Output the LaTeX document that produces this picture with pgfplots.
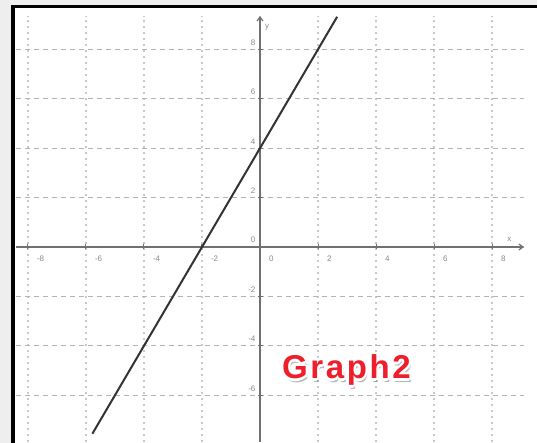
\documentclass[border=0pt]{standalone}
\usepackage{fontspec}
\setmainfont{Liberation Sans}
\newfontfamily\gfont[LetterSpace=8]{Liberation Sans}
\usepackage{pgfplots}
\pgfplotsset{compat=1.18}
\usetikzlibrary{arrows.meta,calc}
\definecolor{bgg}{HTML}{EEEEEE}
\definecolor{axg}{HTML}{707070}
\definecolor{lblg}{HTML}{8A8A8A}
\definecolor{gridg}{HTML}{C8C8C8}
\definecolor{gred}{HTML}{EE1F2B}
\begin{document}
\begin{tikzpicture}
\clip (0pt,0pt) rectangle (268.5pt,221.5pt);
\fill[bgg] (0pt,0pt) rectangle (268.5pt,221.5pt);
\fill[white] (6.5pt,0pt) rectangle (268.5pt,218.25pt);
\begin{axis}[
  at={(130pt,98pt)}, anchor=origin,
  x=14.5pt, y=12.35pt,
  xmin=-8.4, xmax=9.1, ymin=-7.9, ymax=9.35,
  axis lines=middle,
  axis line style={axg, line width=0.6pt},
  x axis line style={-{Straight Barb[length=2pt,width=3pt]}},
  y axis line style={-{Straight Barb[length=2pt,width=3pt]}},
  xtick={-8,-6,...,8}, ytick={-6,-4,...,8},
  hide obscured x ticks=false, hide obscured y ticks=false,
  major tick length=2.5pt,
  tick style={axg, line width=0.5pt},
  tick align=center,
  grid=major,
  x grid style={gridg, line width=0.6pt, dash pattern=on 1pt off 2pt},
  y grid style={gridg!90!black, line width=0.6pt, dash pattern=on 2.5pt off 2pt},
  /pgf/number format/assume math mode=true,
  ticklabel style={font=\fontsize{4}{4.5}\selectfont, text=lblg},
  xticklabel style={anchor=north west, xshift=1pt, yshift=0.5pt},
  yticklabel style={anchor=south east, xshift=2.5pt, yshift=-1.5pt},
  clip=false,
  axis on top=false,
]
\addplot[color=black!80, line width=1pt] coordinates {(-5.78,-7.56) (2.66,9.32)};
\node[font=\fontsize{4}{4.5}\selectfont, text=lblg] at (axis cs:8.6,0.3) {x};
\node[font=\fontsize{4}{4.5}\selectfont, text=lblg] at (axis cs:0.25,8.9) {y};
\end{axis}
\draw[line width=1.6pt] (6.5pt,-2pt) -- (6.5pt,218.25pt) -- (272pt,218.25pt);
% Graph2 label
\foreach \dx/\dy/\op in {0.6/-1.6/0.35,0.9/-2.0/0.25,0.3/-1.2/0.3}{
  \node[font=\gfont\bfseries\fontsize{16.5}{17}\selectfont, text=black!55, opacity=\op, anchor=base] at ($(173.25pt,32pt)+(\dx pt,\dy pt)$) {Graph2};
}
\foreach \dx/\dy in {1.1/0,-1.1/0,0/1.1,0/-1.1,0.8/0.8,-0.8/0.8,0.8/-0.8,-0.8/-0.8}{
  \node[font=\gfont\bfseries\fontsize{16.5}{17}\selectfont, text=white, anchor=base] at ($(173.25pt,32pt)+(\dx pt,\dy pt)$) {Graph2};
}
\node[font=\gfont\bfseries\fontsize{16.5}{17}\selectfont, text=gred, anchor=base] at (173.25pt,32pt) {Graph2};
\end{tikzpicture}
\end{document}
